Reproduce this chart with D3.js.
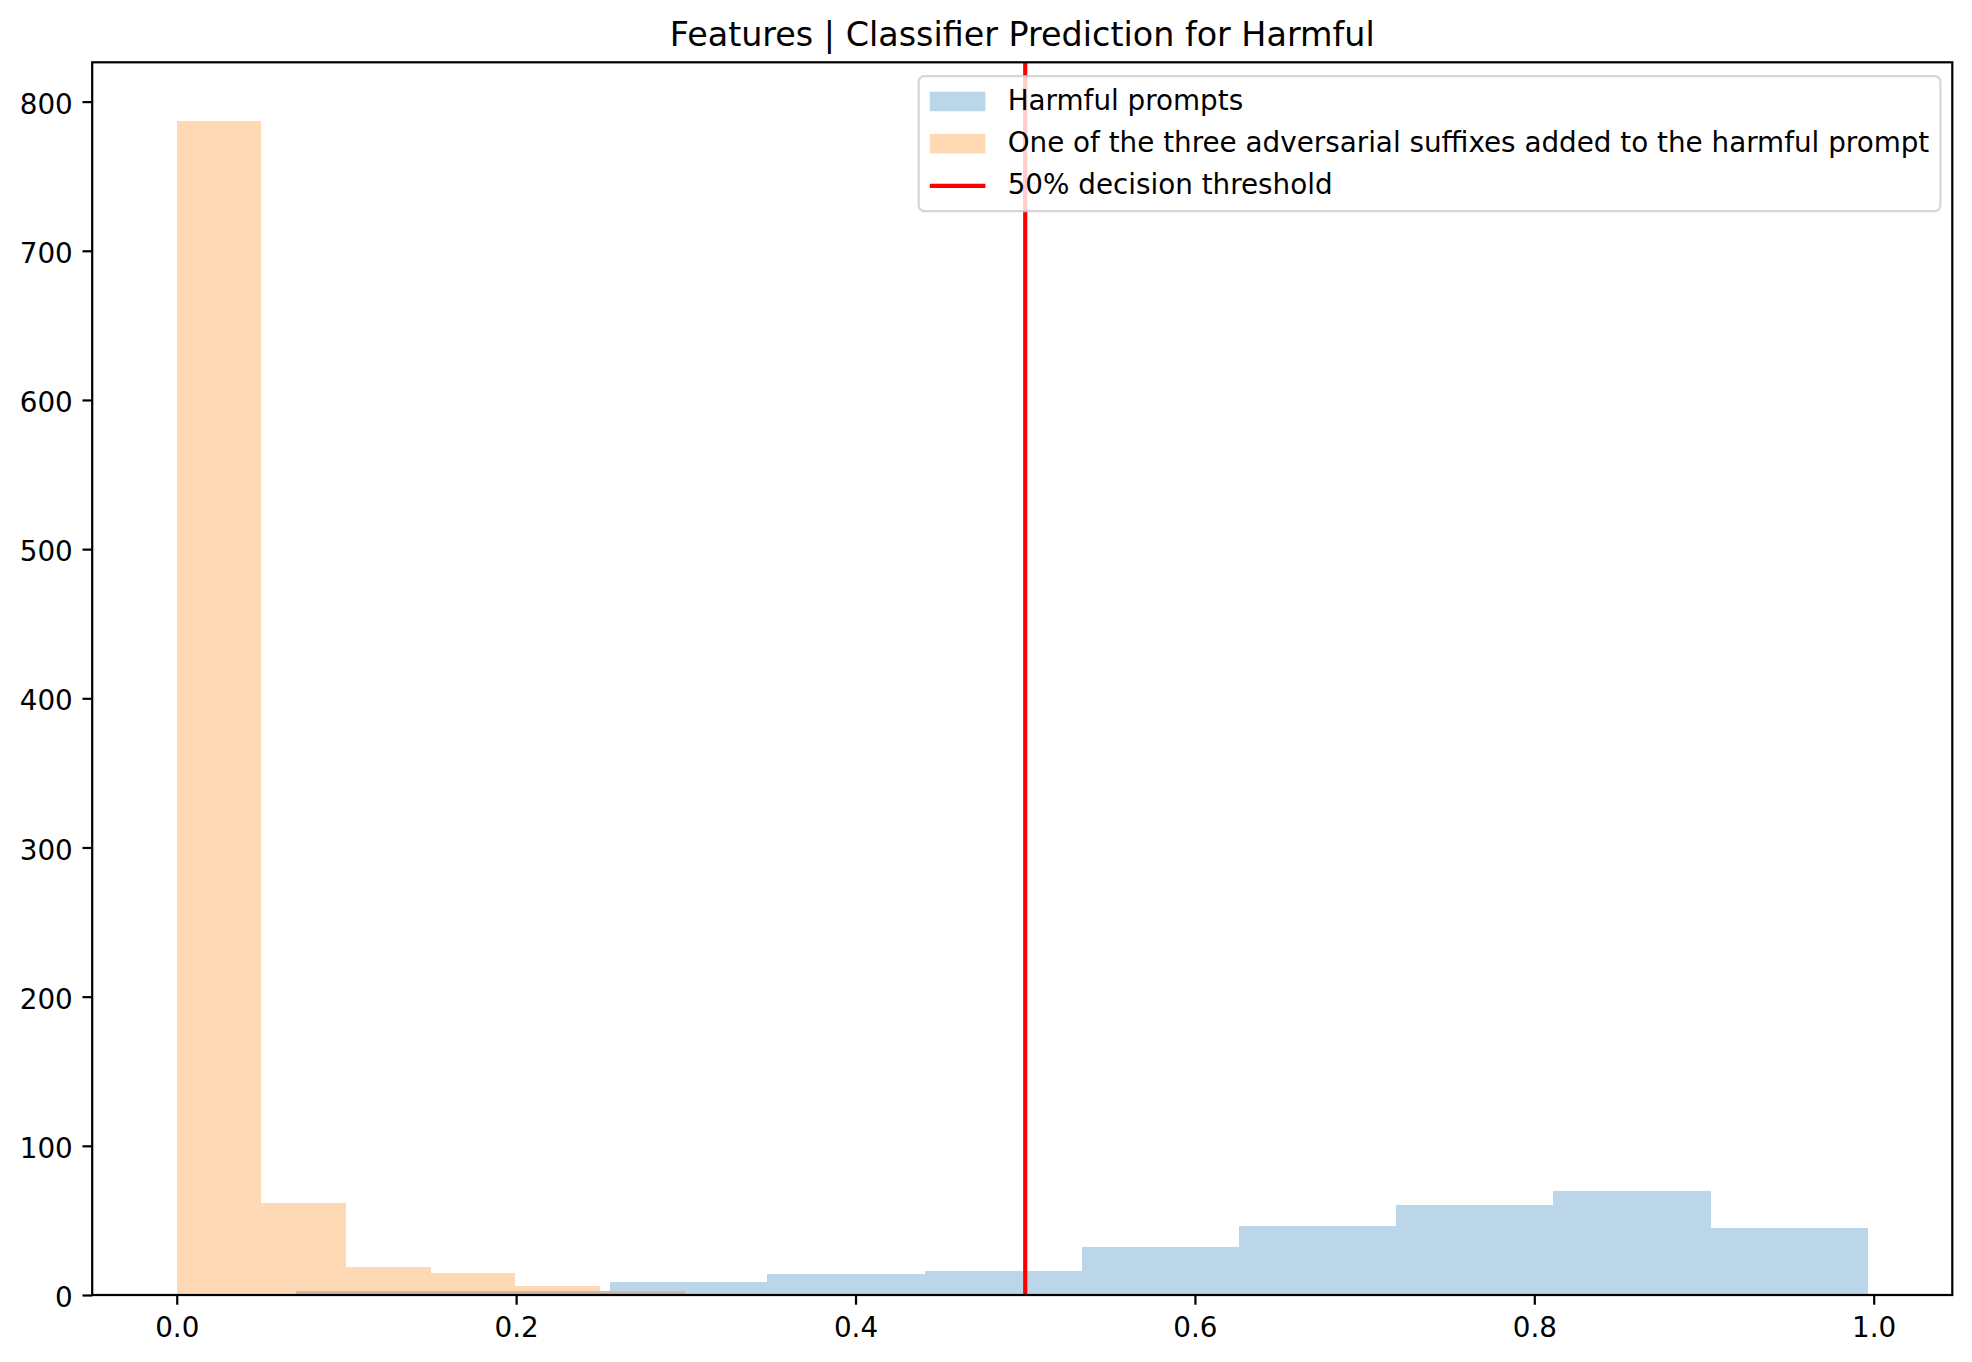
<!DOCTYPE html>
<html>
<head>
<meta charset="utf-8">
<script src="https://cdn.jsdelivr.net/npm/d3@7"></script>
<style>
  body { margin: 0; background: #fff; }
  svg { display: block; }
  text { font-family: "DejaVu Sans", sans-serif; }
</style>
</head>
<body>
<div id="chart"></div>
<script>
// histogram bins
var harmfulEdges = [0.0703, 0.1629, 0.2555, 0.3481, 0.4407, 0.5334, 0.6260, 0.7186, 0.8112, 0.9039, 0.9965];
var harmfulCounts = [3, 3, 9, 14, 16, 32, 46, 60, 70, 45];

var suffixEdges = [0.0, 0.0499, 0.0998, 0.1497, 0.1996, 0.2495, 0.2994, 0.3493, 0.3992, 0.4491, 0.4990];
var suffixCounts = [787, 62, 19, 15, 6, 3, 1, 1, 0, 1];

var threshold = 0.5;
var xTicks = [0.0, 0.2, 0.4, 0.6, 0.8, 1.0];
var yTicks = [0, 100, 200, 300, 400, 500, 600, 700, 800];

var titleText = "Features | Classifier Prediction for Harmful";
var legendLabels = ["Harmful prompts",
  "One of the three adversarial suffixes added to the harmful prompt",
  "50% decision threshold"];

var W = 1972, H = 1362;
var axL = 92.2, axR = 1952.3, axT = 62.3, axB = 1295;
var fs = 27.8;          // 10pt at 200 dpi
var lw = 2.22;          // 0.8pt
var tickLen = 9.72;

function bins(edges, counts) {
  return counts.map(function (c, i) { return { x0: edges[i], x1: edges[i + 1], n: c }; });
}
var blue = bins(harmfulEdges, harmfulCounts);
var orange = bins(suffixEdges, suffixCounts);

// matplotlib style 5% margins
var xmin = d3.min([harmfulEdges[0], suffixEdges[0]]);
var xmax = d3.max([harmfulEdges[harmfulEdges.length - 1], suffixEdges[suffixEdges.length - 1]]);
var xpad = (xmax - xmin) * 0.05;
var ymax = d3.max(harmfulCounts.concat(suffixCounts)) * 1.05;

var x = d3.scaleLinear().domain([xmin - xpad, xmax + xpad]).range([axL, axR]);
var y = d3.scaleLinear().domain([0, ymax]).range([axB, axT]);

var svg = d3.select("#chart").append("svg").attr("width", W).attr("height", H);
svg.append("rect").attr("width", W).attr("height", H).attr("fill", "#fff");

function drawBars(data, color) {
  svg.append("g").selectAll("rect").data(data.filter(function (d) { return d.n > 0; }))
    .enter().append("rect")
    .attr("x", function (d) { return x(d.x0); })
    .attr("width", function (d) { return x(d.x1) - x(d.x0); })
    .attr("y", function (d) { return y(d.n); })
    .attr("height", function (d) { return y(0) - y(d.n); })
    .attr("fill", color)
    .attr("fill-opacity", 0.3)
    .attr("shape-rendering", "crispEdges");
}
drawBars(blue, "#1f77b4");
drawBars(orange, "#ff7f0e");

svg.append("line")
  .attr("x1", x(threshold)).attr("x2", x(threshold))
  .attr("y1", axT).attr("y2", axB)
  .attr("stroke", "red").attr("stroke-width", 4.17);

// axes
var xAxis = svg.append("g").attr("transform", "translate(0," + axB + ")")
  .call(d3.axisBottom(x).tickValues(xTicks).tickFormat(d3.format(".1f"))
    .tickSize(tickLen).tickPadding(tickLen).tickSizeOuter(0));
var yAxis = svg.append("g").attr("transform", "translate(" + axL + ",0)")
  .call(d3.axisLeft(y).tickValues(yTicks).tickFormat(d3.format("d"))
    .tickSize(tickLen).tickPadding(tickLen).tickSizeOuter(0));
[xAxis, yAxis].forEach(function (g) {
  g.select(".domain").remove();
  g.selectAll(".tick line").attr("stroke", "#000").attr("stroke-width", lw);
  g.selectAll(".tick text").attr("fill", "#000")
    .style("font-size", fs + "px").style("font-family", "'DejaVu Sans', sans-serif");
});
xAxis.selectAll(".tick text").attr("dy", "0.8em");
yAxis.selectAll(".tick text").attr("dy", "0.42em");

svg.append("rect")
  .attr("x", axL).attr("y", axT)
  .attr("width", axR - axL).attr("height", axB - axT)
  .attr("fill", "none").attr("stroke", "#000").attr("stroke-width", lw);

// legend, upper right
var pad = 0.4 * fs, handleLen = 2 * fs, textPad = 0.8 * fs, rowH = 28.3, rowGap = 0.5 * fs;
var leg = svg.append("g");
var frame = leg.append("rect");
var texts = leg.selectAll("text.lab").data(legendLabels).enter().append("text")
  .attr("class", "lab").style("font-size", fs + "px").attr("fill", "#000")
  .text(function (d) { return d; });
var maxW = d3.max(texts.nodes(), function (n) { return n.getComputedTextLength(); });
var legRight = axR - 0.5 * fs + 2;
var legTop = axT + 0.5 * fs;
var legW = 2 * pad + handleLen + textPad + maxW;
var legH = 2 * pad + 3 * rowH + 2 * rowGap;
var legLeft = legRight - legW;
frame.attr("x", legLeft).attr("y", legTop).attr("width", legW).attr("height", legH)
  .attr("rx", 0.2 * fs).attr("ry", 0.2 * fs)
  .attr("fill", "#fff").attr("fill-opacity", 0.8)
  .attr("stroke", "#cccccc").attr("stroke-opacity", 0.8).attr("stroke-width", lw);

function rowY(i) { return legTop + pad + rowH / 2 + i * (rowH + rowGap); }
var hx = legLeft + pad;
texts.attr("x", hx + handleLen + textPad)
  .attr("y", function (d, i) { return rowY(i) + 8.3; });

[["#1f77b4", 0], ["#ff7f0e", 1]].forEach(function (p) {
  leg.append("rect")
    .attr("x", hx).attr("y", rowY(p[1]) - 0.35 * fs)
    .attr("width", handleLen).attr("height", 0.7 * fs)
    .attr("fill", p[0]).attr("fill-opacity", 0.3);
});
leg.append("line")
  .attr("x1", hx).attr("x2", hx + handleLen)
  .attr("y1", rowY(2)).attr("y2", rowY(2))
  .attr("stroke", "red").attr("stroke-width", 4.17);

svg.append("text")
  .attr("x", (axL + axR) / 2).attr("y", axT - 16.7)
  .attr("text-anchor", "middle")
  .style("font-size", (1.2 * fs) + "px")
  .attr("fill", "#000")
  .text(titleText);
</script>
</body>
</html>
